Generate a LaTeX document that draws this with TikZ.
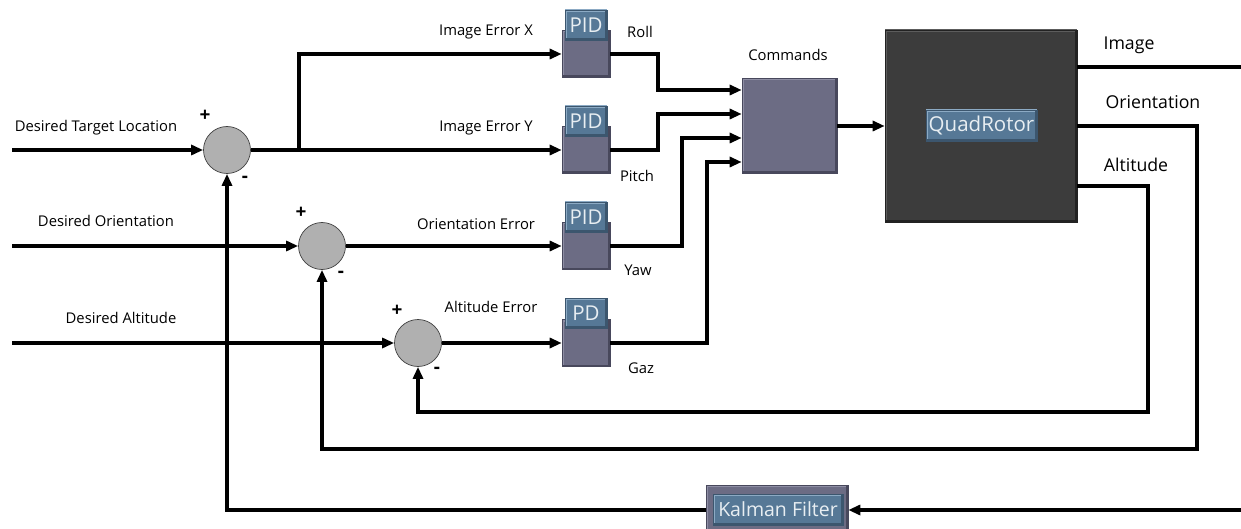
\documentclass[tikz,border=0pt]{standalone}
\usepackage{fontspec}
\setmainfont{Open Sans}
\usetikzlibrary{arrows.meta,calc}
\definecolor{boxfill}{RGB}{108,108,132}
\definecolor{boxlight}{RGB}{142,142,164}
\definecolor{boxdark}{RGB}{72,72,92}
\definecolor{tagfill}{RGB}{86,120,150}
\definecolor{taglight}{RGB}{140,170,196}
\definecolor{tagdark}{RGB}{60,86,110}
\definecolor{tagtext}{RGB}{232,238,242}
\definecolor{quadfill}{RGB}{60,60,60}
\definecolor{quadlight}{RGB}{92,92,92}
\definecolor{quaddark}{RGB}{34,34,34}
\definecolor{sumfill}{RGB}{176,176,176}

\begin{document}
\begin{tikzpicture}[x=1pt,y=-1pt,
  wire/.style={line width=3.1pt, line join=miter},
  arr/.style={wire, -{Triangle[length=12pt,width=10pt]}},
  bevel/.style 2 args={path picture={
     \draw[line width=4pt,#1] (path picture bounding box.south west) |- (path picture bounding box.north east);
     \draw[line width=4pt,#2] (path picture bounding box.south west) -| (path picture bounding box.north east);}},
  block/.style={draw=boxdark, line width=0.6pt, fill=boxfill, bevel={boxlight}{boxdark},
     minimum width=48pt, minimum height=47pt, inner sep=0pt},
  tag/.style={fill=tagfill, draw=tagdark, line width=0.5pt, bevel={taglight}{tagdark},
     text=tagtext, font=\fontsize{20.5}{20.5}\selectfont, inner sep=0pt, minimum height=30pt},
  sum/.style={circle, draw=black!75, fill=sumfill, minimum size=47pt, inner sep=0pt, line width=0.7pt},
  lbl/.style={font=\fontsize{14.8}{16}\selectfont, inner sep=0pt},
  big/.style={font=\fontsize{17.7}{19}\selectfont, inner sep=0pt},
  sign/.style={font=\bfseries\fontsize{19}{19}\selectfont, inner sep=0pt}]

\useasboundingbox (0,0) rectangle (1241,529);
\fill[white] (0,0) rectangle (1241,529);

% summing junctions
\node[sum] (s1) at (227,150) {};
\node[sum] (s2) at (322,246) {};
\node[sum] (s3) at (418,343) {};

% controllers
\node[block] (pid1) at (586,54) {};
\node[tag, minimum width=42pt] (t1) at (586,25) {PID};
\node[block] (pid2) at (586,150) {};
\node[tag, minimum width=42pt] (t2) at (586,121) {PID};
\node[block] (pid3) at (586,246) {};
\node[tag, minimum width=42pt] (t3) at (586,217) {PID};
\node[block] (pd) at (586,343) {};
\node[tag, minimum width=42pt] (t4) at (586,313) {PD};

% command mixer, plant and estimator
\node[block, minimum width=95pt, minimum height=95pt] (cmd) at (789.5,126) {};
\node[block, fill=quadfill, draw=quaddark, bevel={quadlight}{quaddark},
      minimum width=192pt, minimum height=192pt] (quad) at (981,126) {};
\node[tag, minimum width=111pt, minimum height=31pt] (tq) at (981.5,125.5) {QuadRotor};
\node[block, minimum width=142pt, minimum height=50pt] (kal) at (777,510) {};
\node[tag, minimum width=130pt, minimum height=31pt, font=\fontsize{19.5}{19.5}\selectfont]
      (tk) at (778,509.5) {Kalman Filter};

% routing points
\coordinate (in1) at (12,150);
\coordinate (in2) at (12,246);
\coordinate (in3) at (12,343);
\coordinate (j1) at (299,150);
\coordinate (k1) at (658,90);
\coordinate (k2) at (658,114);
\coordinate (k3) at (682,138);
\coordinate (k4) at (707,162);
\coordinate (yimg) at (1241,67);
\coordinate (o1) at (1197,449);
\coordinate (ya) at (1148,186);
\coordinate (a1) at (1148,412);
\coordinate (kin) at (1241,510);

% reference inputs
\draw[arr] (in1) -- (s1.west);
\draw[arr] (in2) -- (s2.west);
\draw[arr] (in3) -- (s3.west);

% errors into controllers
\draw[arr] (s1.east) -- (pid2.west);
\draw[arr] (j1) |- (pid1.west);
\draw[arr] (s2.east) -- (pid3.west);
\draw[arr] (s3.east) -- (pd.west);

% controller outputs into the command block
\draw[arr] (pid1.east) -| (k1) -- (cmd.west |- k1);
\draw[arr] (pid2.east) -| (k2) -- (cmd.west |- k2);
\draw[arr] (pid3.east) -| (k3) -- (cmd.west |- k3);
\draw[arr] (pd.east) -| (k4) -- (cmd.west |- k4);
\draw[arr] (cmd.east) -- (quad.west);

% plant outputs and feedback
\draw[wire] (quad.east |- yimg) -- (yimg);
\draw[arr] (quad.east) -| (o1) -| (s2.south);
\draw[arr] (quad.east |- ya) -- (ya) -- (a1) -| (s3.south);
\draw[arr] (kin) -- (kal.east);
\draw[arr] (kal.west) -| (s1.south);

% labels
\node[lbl] (l1) at (96,128) {Desired Target Location};
\node[lbl] (l2) at (106,221) {Desired Orientation};
\node[lbl] (l3) at (121,318) {Desired Altitude};
\node[lbl] (l4) at (486,32) {Image Error X};
\node[lbl] (l5) at (486,128) {Image Error Y};
\node[lbl] (l6) at (476,224) {Orientation Error};
\node[lbl] (l7) at (491,307) {Altitude Error};
\node[lbl] (l8) at (640,32) {Roll};
\node[lbl] (l9) at (637,176) {Pitch};
\node[lbl] (l10) at (638,270) {Yaw};
\node[lbl] (l11) at (641,368) {Gaz};
\node[lbl] (l12) at (788,55) {Commands};
\node[big] (l13) at (1129,45) {Image};
\node[big] (l14) at (1153,102) {Orientation};
\node[big] (l15) at (1136,165) {Altitude};

% signs on the summing junctions
\node[sign] (p1) at (205,116) {+};
\node[sign] (m1) at (245,179) {-};
\node[sign] (p2) at (301,213) {+};
\node[sign] (m2) at (341,274) {-};
\node[sign] (p3) at (397,311) {+};
\node[sign] (m3) at (437,370) {-};
\end{tikzpicture}
\end{document}
